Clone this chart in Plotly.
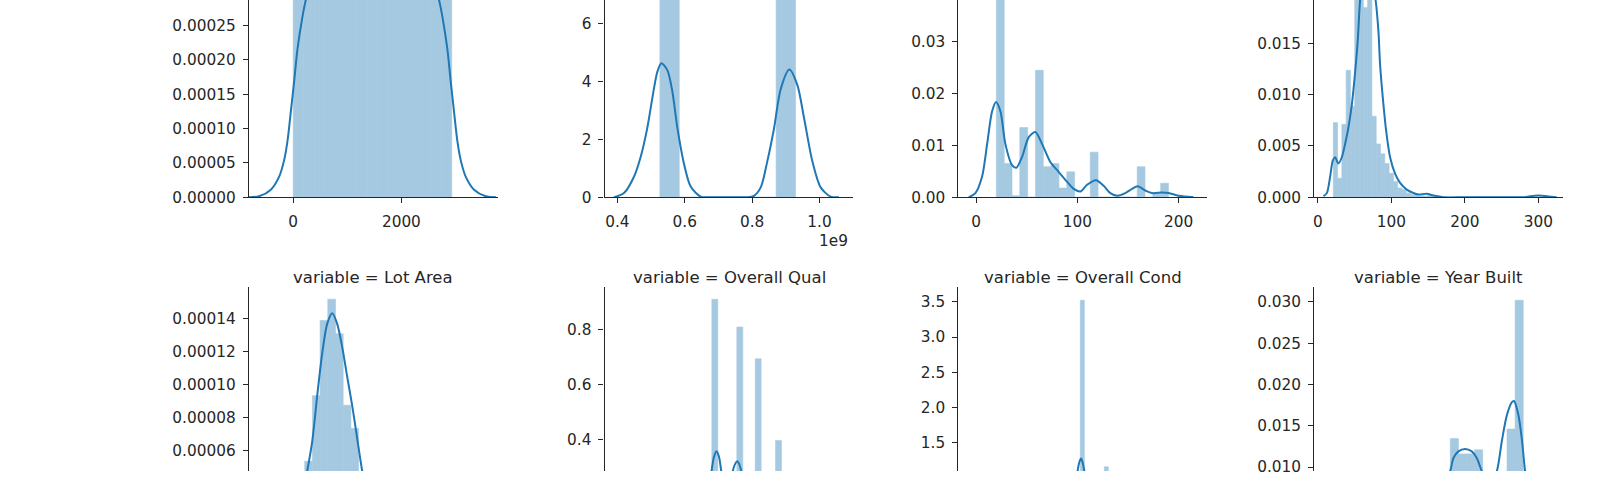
import numpy as np
import plotly.graph_objects as go

BLUE = "#1f77b4"
BAR_FILL = "rgb(165,201,225)"   # #1f77b4 at 40 % opacity over white
TEXT = "#262626"
FONT = "DejaVu Sans"

# ---------------- data ----------------
# Panel 1 : Order
ORDER_EDGES = [1, 196.3, 391.5, 586.8, 782.1, 977.3, 1172.6, 1367.9, 1563.1, 1758.4,
               1953.7, 2148.9, 2344.2, 2539.5, 2734.7, 2930]
ORDER_DENS = [0.000343, 0.000341, 0.000342, 0.000340, 0.000341, 0.000342, 0.000341, 0.000340,
              0.000342, 0.000341, 0.000341, 0.000340, 0.000342, 0.000341, 0.000343]
ORDER_KDE_X = [-820, -628, -412, -258, -166, -103, -42, 18, 81, 173, 234, 330, 500, 800, 1465,
               2130, 2430, 2600, 2696, 2757, 2849, 2912, 2972, 3033, 3096, 3188, 3342, 3558, 3750]
ORDER_KDE_Y = [0.0, 0.0000014, 0.000011, 0.00003, 0.000054, 0.0000824, 0.000125, 0.000168, 0.000216,
               0.000263, 0.000287, 0.000313, 0.000335, 0.000341, 0.000341,
               0.000341, 0.000335, 0.000313, 0.000287, 0.000263, 0.000216, 0.000168, 0.000125,
               0.0000824, 0.000054, 0.00003, 0.000011, 0.0000014, 0.0]

# Panel 2 : PID (x in units of 1e9)
PID_EDGES = [0.5263, 0.5838, 0.6413, 0.6988, 0.7563, 0.8138, 0.8713, 0.9288]
PID_DENS = [8.6, 0, 0, 0, 0, 0, 8.3]
PID_KDE_X = [0.390, 0.4197, 0.4494, 0.4692, 0.4891, 0.5039, 0.5187, 0.5306, 0.5484, 0.5633,
             0.5781, 0.5978, 0.6177, 0.6474, 0.67, 0.70, 0.73, 0.76, 0.785, 0.8055, 0.8255,
             0.8452, 0.8650, 0.8848, 0.9105, 0.9343, 0.9540, 0.9787, 1.0034, 1.033, 1.0577]
PID_KDE_Y = [0.0, 0.146, 0.71, 1.39, 2.41, 3.43, 4.34, 4.64, 4.40, 3.66,
             2.41, 1.16, 0.37, 0.02, 0.0, 0.0, 0.0, 0.0, 0.0, 0.05, 0.34,
             1.25, 2.38, 3.74, 4.42, 3.88, 2.75, 1.25, 0.34, 0.02, 0.0]

# Panel 3 : MS SubClass
MSSUB_EDGES = [20, 27.73, 35.45, 43.18, 50.91, 58.64, 66.36, 74.09, 81.82, 89.55, 97.27, 105.0,
               112.73, 120.45, 128.18, 135.91, 143.64, 151.36, 159.09, 166.82, 174.55, 182.27, 190]
MSSUB_DENS = [0.049, 0.0065, 0.0003, 0.01345, 0, 0.0245, 0.0059, 0.0065, 0.00177, 0.0049, 0, 0,
              0.0087, 0, 0, 0, 0.00005, 0, 0.0059, 0, 0.00075, 0.0027]
MSSUB_KDE_X = [-7.3, -0.7, 5.9, 10.9, 15.8, 19.7, 24, 28.9, 35.5, 39.8, 45.4, 52, 58.5, 65.1, 73.3,
               81.5, 89.8, 96.4, 103, 109.6, 118.5, 126, 132.6, 139.2, 147.4, 154, 159.5, 167.1,
               173.7, 183.6, 190.1, 200, 214.8]
MSSUB_KDE_Y = [0.0, 0.0008, 0.004, 0.0103, 0.0166, 0.0184, 0.0166, 0.0103, 0.0062, 0.0057, 0.0078,
               0.0116, 0.0126, 0.0103, 0.0068, 0.0049, 0.003, 0.0016, 0.0011, 0.0024, 0.0033, 0.0022,
               0.0008, 0.0003, 0.0008, 0.0016, 0.0021, 0.0013, 0.0008, 0.0009, 0.0008, 0.0003, 0.0]

# Panel 4 : Lot Frontage
LOTF_EDGES = [21.0, 26.84, 32.68, 38.52, 44.36, 50.2, 56.04, 61.88, 67.72, 73.56, 79.4, 85.24,
              91.08, 96.92, 102.76, 108.6, 114.44, 120.28, 126.12, 131.96, 137.8, 143.64, 149.48,
              155.32, 161.16, 167.0, 172.84, 178.68, 184.52, 190.36, 196.2, 202.04, 207.88, 213.72,
              219.56, 225.4, 231.24, 237.08, 242.92, 248.76, 254.6, 260.44, 266.28, 272.12, 277.96,
              283.8, 289.64, 295.48, 301.32, 307.16, 313.0]
LOTF_DENS = [0.00728, 0.00185, 0.00711, 0.01238, 0.00888, 0.0215, 0.029, 0.0185, 0.0215, 0.0079,
             0.0052, 0.00424, 0.00328, 0.00233, 0.00153, 0.00089, 0.00074, 0.00041, 0.00025, 0.00018,
             0.0002, 0.00012, 0.00018, 0.00007, 0.00014, 0.00007, 0, 0, 0, 0,
             0, 0, 0, 0.00007, 0, 0, 0, 0, 0, 0,
             0, 0, 0, 0, 0, 0, 0, 0, 0, 0.00014]
LOTF_KDE_X = [7.7, 12.2, 16.7, 20.4, 23.5, 28, 32.6, 37.1, 41.6, 46.2, 50.7, 54.4, 57.5, 61, 65,
              69, 73, 78.5, 82.5, 84.7, 88.4, 92.9, 98.3, 105.1, 111.9, 121, 130, 136.8, 148.2,
              157.2, 170.8, 200, 250, 280, 288.7, 300, 311.4, 325]
LOTF_KDE_Y = [0.0001, 0.0004, 0.002, 0.0036, 0.0039, 0.0033, 0.0039, 0.0052, 0.0068, 0.009, 0.0122,
              0.0154, 0.01925, 0.0212, 0.0222, 0.0222, 0.0212, 0.01925, 0.0161, 0.0129, 0.0097,
              0.0065, 0.0039, 0.0023, 0.0014, 0.00074, 0.00041, 0.00026, 0.00035, 0.00016, 0.0,
              0.0, 0.0, 0.0, 0.0001, 0.00016, 0.0001, 0.0]

# Panel 5 : Lot Area
LOTA_EDGES = [3670, 4748, 5826, 6904, 7982, 9060, 10138, 11216, 12294, 13372, 14450, 15528]
LOTA_DENS = [0.00002, 0.000035, 0.0000536, 0.0000934, 0.000139, 0.000152, 0.000131, 0.0000876,
             0.0000735, 0.00004, 0.00002]
LOTA_KDE_X = [3000, 4500, 6176, 6876, 7576, 8276, 8976, 9676, 10376, 11076, 11776, 12476, 13176,
              13876, 15000, 17000]
LOTA_KDE_Y = [0.000002, 0.000012, 0.0000477, 0.0000655, 0.0000934, 0.000119, 0.000137, 0.0001434,
              0.000137, 0.000123, 0.000105, 0.0000874, 0.0000675, 0.0000477, 0.00002, 0.000003]

# Panel 6 : Overall Qual
QUAL_LEFT = [2.93, 3.95, 4.90, 6.08, 6.947, 7.905, 8.90, 9.85]
QUAL_DENS = [0.045, 0.25, 0.9111, 0.8097, 0.6935, 0.395, 0.118, 0.035]
QUAL_WIDTH = 0.28
QUAL_KDE_X = [4.3, 4.5, 4.75, 4.886, 5.0, 5.122, 5.24, 5.343, 5.5, 5.62, 5.75, 5.891, 6.0, 6.098,
              6.19, 6.287, 6.45, 6.6, 7.0, 7.5, 8.0, 8.5]
QUAL_KDE_Y = [0.05, 0.1, 0.2, 0.284, 0.335, 0.356, 0.335, 0.284, 0.2, 0.17, 0.2, 0.284, 0.31, 0.3197,
              0.31, 0.284, 0.2, 0.15, 0.22, 0.15, 0.15, 0.05]

# Panel 7 : Overall Cond
COND_LEFT = [2.92, 3.88, 5.0, 5.96, 6.92, 7.88]
COND_DENS = [0.1, 0.22, 3.524, 1.156, 0.83, 0.3]
COND_WIDTH = 0.16
COND_KDE_X = [4.4, 4.6, 4.8, 4.89, 4.96, 5.028, 5.09, 5.16, 5.3, 5.5, 5.7]
COND_KDE_Y = [0.1, 0.3, 0.85, 1.096, 1.22, 1.273, 1.22, 1.096, 0.75, 0.4, 0.3]

# Panel 8 : Year Built
YEAR_EDGES = [1872.0, 1878.57, 1885.14, 1891.71, 1898.28, 1904.86, 1911.43, 1918.0, 1924.57,
              1931.14, 1937.71, 1944.28, 1950.86, 1957.43, 1964.0, 1970.57, 1977.14, 1983.71,
              1990.28, 1996.86, 2003.43, 2010.0]
YEAR_DENS = [0.0002, 0.0003, 0.0008, 0.0012, 0.0018, 0.0028, 0.005, 0.0062, 0.0058, 0.0046, 0.0042,
             0.0072, 0.01345, 0.0116, 0.0116, 0.0121, 0.0085, 0.0075, 0.009, 0.0146, 0.0302]
YEAR_KDE_X = [1860, 1890, 1915, 1930, 1942.6, 1950.7, 1953.4, 1957.4, 1962.8, 1968.3, 1972.3,
              1976.4, 1982.3, 1988.6, 1992.6, 1996.7, 2000.7, 2002.6, 2006.1, 2008.8, 2011.5,
              2017.2, 2023.7]
YEAR_KDE_Y = [0.0001, 0.0008, 0.003, 0.005, 0.007, 0.0095, 0.0111, 0.0119, 0.0122, 0.0119, 0.0111,
              0.0095, 0.0075, 0.0095, 0.0131, 0.01626, 0.01784, 0.0180, 0.0163, 0.0135, 0.0095,
              0.003, 0.0003]

ROW2_TITLES = ["variable = Lot Area", "variable = Overall Qual",
               "variable = Overall Cond", "variable = Year Built"]

# ---------------- layout geometry ----------------
W, H = 1600, 480
COL_LEFT = [248, 604, 958, 1314]
AX_W = 249
ROW1_BOTTOM = 201      # px from top
ROW2_TOP = 292.7


def xdom(i):
    return [COL_LEFT[i] / W, (COL_LEFT[i] + AX_W) / W]


ROW1_DOM = [1 - ROW1_BOTTOM / H, 1.0]
ROW2_DOM = [0.0, 1 - ROW2_TOP / H]

panels = [
    dict(edges=ORDER_EDGES, dens=ORDER_DENS, kx=ORDER_KDE_X, ky=ORDER_KDE_Y,
         xr=[-818, 3779], yr=[0, 0.0002871], xd=2000, xf="d", yd=0.00005, yf=".5f"),
    dict(edges=PID_EDGES, dens=PID_DENS, kx=PID_KDE_X, ky=PID_KDE_Y,
         xr=[0.3623, 1.1008], yr=[0, 6.826], xd=0.2, xf=".1f", yd=2, yf="d"),
    dict(edges=MSSUB_EDGES, dens=MSSUB_DENS, kx=MSSUB_KDE_X, ky=MSSUB_KDE_Y,
         xr=[-17.5, 228.3], yr=[0, 0.03808], xd=100, xf="d", yd=0.01, yf=".2f"),
    dict(edges=LOTF_EDGES, dens=LOTF_DENS, kx=LOTF_KDE_X, ky=LOTF_KDE_Y,
         xr=[-5.0, 333.6], yr=[0, 0.01924], xd=100, xf="d", yd=0.005, yf=".3f"),
    dict(edges=LOTA_EDGES, dens=LOTA_DENS, kx=LOTA_KDE_X, ky=LOTA_KDE_Y,
         xr=[-2000, 32860], yr=[0.00004767, 0.00015924], xd=None, xf="d", yd=0.00002, yf=".5f"),
    dict(left=QUAL_LEFT, width=QUAL_WIDTH, dens=QUAL_DENS, kx=QUAL_KDE_X, ky=QUAL_KDE_Y,
         xr=[-0.161, 11.584], yr=[0.2839, 0.9552], xd=None, xf="d", yd=0.2, yf=".1f"),
    dict(left=COND_LEFT, width=COND_WIDTH, dens=COND_DENS, kx=COND_KDE_X, ky=COND_KDE_Y,
         xr=[0.12, 10.08], yr=[1.096, 3.709], xd=None, xf="d", yd=0.5, yf=".1f"),
    dict(edges=YEAR_EDGES, dens=YEAR_DENS, kx=YEAR_KDE_X, ky=YEAR_KDE_Y,
         xr=[1840.4, 2042.3], yr=[0.009527, 0.03178], xd=None, xf="d", yd=0.005, yf=".3f"),
]

fig = go.Figure()
layout = dict(
    width=W, height=H, margin=dict(l=0, r=0, t=0, b=0),
    paper_bgcolor="white", plot_bgcolor="white", showlegend=False,
    font=dict(family=FONT, size=15.3, color=TEXT),
)

for i, p in enumerate(panels):
    n = i + 1
    xa = "x" if n == 1 else f"x{n}"
    ya = "y" if n == 1 else f"y{n}"
    if "edges" in p:
        e = np.array(p["edges"], dtype=float)
        centers = (e[:-1] + e[1:]) / 2
        widths = np.diff(e)
    else:
        left = np.array(p["left"], dtype=float)
        widths = np.full(len(left), p["width"])
        centers = left + widths / 2
    fig.add_trace(go.Bar(x=centers, y=p["dens"], width=widths, xaxis=xa, yaxis=ya,
                         marker=dict(color=BAR_FILL, line=dict(width=0.6, color=BAR_FILL)),
                         hoverinfo="skip"))
    fig.add_trace(go.Scatter(x=p["kx"], y=p["ky"], xaxis=xa, yaxis=ya, mode="lines",
                             line=dict(color=BLUE, width=2, shape="spline", smoothing=0.8),
                             hoverinfo="skip"))
    row1 = i < 4
    col = i % 4
    xkey = "xaxis" if n == 1 else f"xaxis{n}"
    ykey = "yaxis" if n == 1 else f"yaxis{n}"
    xcfg = dict(domain=xdom(col), anchor=ya, range=p["xr"], showgrid=False, zeroline=False,
                fixedrange=True)
    if row1:
        xcfg.update(showline=True, linecolor=TEXT, linewidth=1.3, ticks="outside", ticklen=5,
                    tickwidth=1.3, tickcolor=TEXT, dtick=p["xd"], tick0=0,
                    tickformat=p["xf"], ticklabelstandoff=5)
    else:
        xcfg.update(showline=False, showticklabels=False, ticks="")
    ycfg = dict(domain=ROW1_DOM if row1 else ROW2_DOM, anchor=xa, range=p["yr"], showgrid=False,
                zeroline=False, showline=True, linecolor=TEXT, linewidth=1.3, ticks="outside",
                ticklen=5, tickwidth=1.3, tickcolor=TEXT, dtick=p["yd"], tick0=0,
                tickformat=p["yf"], ticklabelstandoff=4, fixedrange=True)
    layout[xkey] = xcfg
    layout[ykey] = ycfg

annotations = []
for j, t in enumerate(ROW2_TITLES):
    d = xdom(j)
    annotations.append(dict(text=t, xref="paper", yref="paper", x=(d[0] + d[1]) / 2,
                            y=1 - 283 / H, xanchor="center", yanchor="middle", showarrow=False,
                            font=dict(family=FONT, size=16.5, color=TEXT)))
# offset label of the PID axis
d = xdom(1)
annotations.append(dict(text="1e9", xref="paper", yref="paper", x=d[1] - 3 / W, y=1 - 246 / H,
                        xanchor="right", yanchor="middle", showarrow=False,
                        font=dict(family=FONT, size=15.3, color=TEXT)))
layout["annotations"] = annotations
fig.update_layout(**layout)
fig.write_html("out.html")
